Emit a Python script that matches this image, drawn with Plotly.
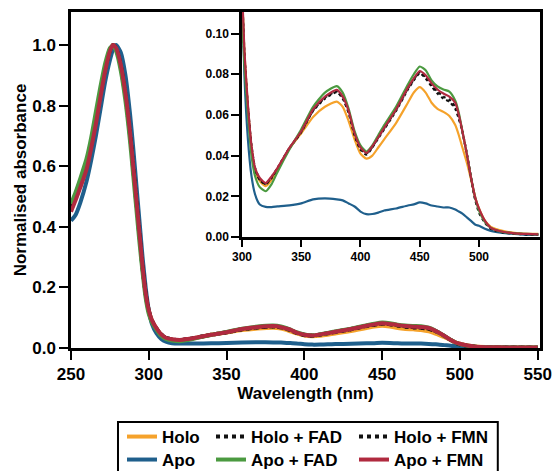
import plotly.graph_objects as go

wavelength = [250, 253, 256, 260, 263, 266, 269, 272, 275, 277, 279, 282, 285, 288, 290, 292, 294, 296, 298,
              300, 302, 305, 308, 311, 315, 320, 325, 330, 340, 350, 360, 370, 380, 385, 390, 395, 400, 405,
              410, 415, 420, 430, 440, 445, 450, 455, 460, 465, 470, 475, 480, 483, 486, 490, 493, 497, 500,
              505, 510, 520, 530, 540, 550]

holo = [.458, .495, .535, .595, .665, .745, .835, .918, .980, 1.000, .990, .935, .840, .710, .600, .490, .380, .270, .180,
        .124, .091, .064, .044, .033, .0275, .025, .028, .033, .0435, .051, .059, .064, .0665, .064, .057, .048, .041, .0385,
        .040, .044, .048, .056, .066, .071, .0737, .071, .066, .063, .0615, .0595, .055, .050, .044, .036, .029, .019, .014,
        .008, .005, .003, .002, .0016, .0015]

apo = [.420, .440, .480, .550, .620, .700, .790, .880, .950, .985, 1.000, .975, .900, .770, .660, .540, .420, .300, .200,
       .125, .080, .048, .030, .021, .016, .0148, .0147, .015, .0155, .0165, .0185, .019, .0185, .018, .0165, .015, .0125, .0112,
       .0113, .012, .013, .014, .0155, .016, .017, .0165, .0155, .015, .0145, .0145, .0135, .0125, .0115, .0095, .008, .006, .0055,
       .004, .003, .002, .0015, .001, .001]

holo_fad = [.470, .505, .548, .610, .680, .760, .848, .928, .985, 1.000, .988, .928, .830, .700, .590, .480, .370, .262, .175,
            .120, .089, .063, .044, .033, .028, .026, .029, .0335, .0435, .0515, .062, .068, .0712, .068, .061, .050, .043, .0405,
            .044, .0485, .053, .062, .0725, .077, .0805, .078, .074, .0705, .068, .0665, .063, .058, .052, .040, .030, .018, .012,
            .007, .004, .0022, .0016, .0013, .0012]

apo_fad = [.475, .515, .560, .625, .695, .780, .865, .940, .990, .998, .980, .915, .815, .680, .570, .460, .350, .250, .165,
           .112, .085, .060, .040, .030, .0245, .0225, .026, .032, .043, .053, .064, .071, .0742, .071, .063, .052, .045, .042,
           .045, .050, .055, .064, .075, .080, .0838, .082, .077, .074, .0725, .0715, .067, .061, .052, .040, .030, .019, .013,
           .0075, .0045, .0025, .0018, .0015, .0013]

holo_fmn = [.462, .498, .540, .600, .670, .750, .840, .922, .982, 1.000, .989, .932, .836, .706, .596, .486, .376, .266, .178,
            .123, .091, .064, .045, .034, .0285, .026, .0295, .034, .0437, .0518, .0622, .0685, .0716, .0685, .0615, .0505, .0435, .041,
            .0443, .049, .0535, .0625, .073, .0775, .081, .0788, .0748, .0715, .069, .0675, .064, .059, .052, .040, .030, .018, .013,
            .0075, .0042, .0024, .0017, .0014, .0012]

apo_fmn = [.450, .488, .530, .590, .660, .740, .830, .915, .980, 1.000, .990, .935, .840, .710, .600, .490, .380, .270, .180,
           .125, .092, .065, .045, .034, .029, .0265, .0298, .034, .0438, .052, .0627, .069, .0723, .069, .062, .051, .044, .0413,
           .0446, .049, .0537, .0627, .0734, .078, .0816, .0795, .0755, .0725, .0705, .069, .066, .060, .052, .040, .030, .019, .014,
           .008, .0045, .0026, .0018, .0015, .0013]

series_names = ["Holo", "Apo", "Holo + FAD", "Apo + FAD", "Holo + FMN", "Apo + FMN"]
series_values = [holo, apo, holo_fad, apo_fad, holo_fmn, apo_fmn]
series_colors = ["#f5a22b", "#1f5f8c", "#111111", "#4b9a40", "#111111", "#b02a3f"]
series_dash = ["solid", "solid", "dot", "solid", "dot", "solid"]
series_legend = ["legend", "legend2", "legend3", "legend4", "legend5", "legend6"]

main_xticks = [250, 300, 350, 400, 450, 500, 550]
main_yticks = [0.0, 0.2, 0.4, 0.6, 0.8, 1.0]
inset_xticks = [300, 350, 400, 450, 500]
inset_yticks = [0.00, 0.02, 0.04, 0.06, 0.08, 0.10]

FONT = "Liberation Sans, Arial, sans-serif"
fig = go.Figure()

draw_order = [0, 1, 2, 4, 3, 5]
for i in draw_order:
    fig.add_trace(go.Scatter(
        x=wavelength, y=series_values[i], mode="lines", name=series_names[i],
        line=dict(color=series_colors[i], width=4, dash=series_dash[i], shape="spline", smoothing=0.6),
        legend=series_legend[i], showlegend=True, xaxis="x", yaxis="y"))
for i in draw_order:
    fig.add_trace(go.Scatter(
        x=wavelength, y=series_values[i], mode="lines", name=series_names[i],
        line=dict(color=series_colors[i], width=2.2, dash=series_dash[i], shape="spline", smoothing=0.6),
        showlegend=False, xaxis="x2", yaxis="y2"))

axis_common = dict(showline=True, linewidth=2.5, linecolor="black", mirror=True, ticks="outside",
                   tickcolor="black", tickwidth=2, showgrid=False, zeroline=False, automargin=False)

legend_common = dict(orientation="v", xanchor="left", yanchor="middle",
                     font=dict(family=FONT, size=17, color="black", weight="bold"),
                     bgcolor="rgba(0,0,0,0)", borderwidth=0, itemwidth=30, itemclick=False)

col_x = [0.1087, 0.2985, 0.6034]
row_y = [-0.2649, -0.3333]

fig.update_layout(
    width=553, height=471,
    margin=dict(l=71, r=13, t=12, b=123, autoexpand=False),
    paper_bgcolor="white", plot_bgcolor="white",
    font=dict(family=FONT, color="black", weight="bold"),
    xaxis=dict(domain=[0, 1], range=[250, 551.5], tickvals=main_xticks, ticklen=9,
               tickfont=dict(size=17, family=FONT, weight="bold"),
               title=dict(text="Wavelength (nm)", font=dict(size=17, family=FONT, weight="bold"), standoff=0),
               anchor="y", **axis_common),
    yaxis=dict(domain=[0, 1], range=[0, 1.109], tickvals=main_yticks, tickformat=".1f", ticklen=9,
               tickfont=dict(size=17, family=FONT, weight="bold"),
               title=dict(text="Normalised absorbance", font=dict(size=17, family=FONT, weight="bold"), standoff=2),
               anchor="x", **axis_common),
    xaxis2=dict(domain=[0.3646, 1], range=[300, 551.5], tickvals=inset_xticks, ticklen=7,
                tickfont=dict(size=12, family=FONT, weight="bold"), anchor="y2", **axis_common),
    yaxis2=dict(domain=[0.3304, 1], range=[0, 0.1106], tickvals=inset_yticks, tickformat=".2f", ticklen=8,
                tickfont=dict(size=12, family=FONT, weight="bold"), anchor="x2", **axis_common),
    legend=dict(x=col_x[0], y=row_y[0], **legend_common),
    legend2=dict(x=col_x[0], y=row_y[1], **legend_common),
    legend3=dict(x=col_x[1], y=row_y[0], **legend_common),
    legend4=dict(x=col_x[1], y=row_y[1], **legend_common),
    legend5=dict(x=col_x[2], y=row_y[0], **legend_common),
    legend6=dict(x=col_x[2], y=row_y[1], **legend_common),
    shapes=[dict(type="rect", xref="paper", yref="paper", x0=0.1002, x1=0.910, y0=-0.40, y1=-0.2202,
                 line=dict(color="black", width=2), fillcolor="rgba(0,0,0,0)", layer="above")],
)

fig.write_html("out.html")
